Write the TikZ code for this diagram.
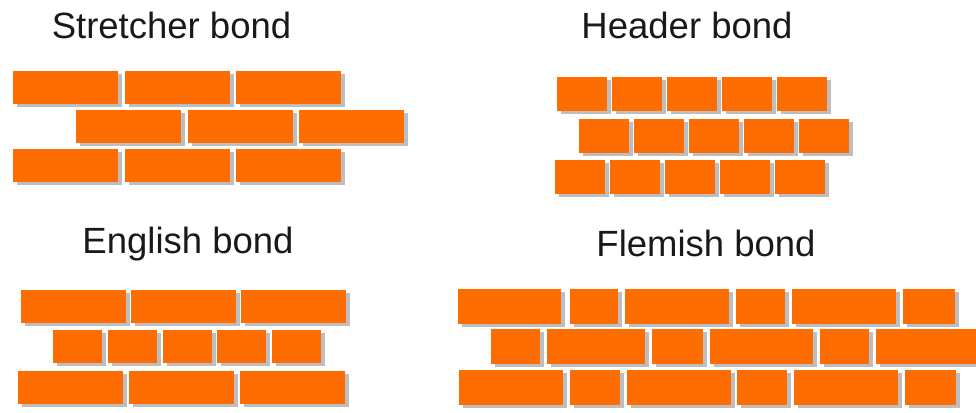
\documentclass[tikz,border=0pt]{standalone}
\usepackage{fontspec}
\setmainfont{Liberation Sans}
\usepackage{xcolor}
\usepackage{tikz}
\usetikzlibrary{shadows}
\definecolor{brickorange}{RGB}{255,108,0}
\definecolor{mortar}{RGB}{188,190,194}
\definecolor{ink}{RGB}{25,25,25}

\begin{document}
\begin{tikzpicture}[
  x=1pt, y=-1pt,
  title/.style={font=\fontsize{36.5}{40}\selectfont, text=ink, anchor=base, inner sep=0pt},
  brick/.style={fill=brickorange,
                drop shadow={shadow xshift=4pt, shadow yshift=-3pt, fill=mortar, opacity=1}}]

  \useasboundingbox (0,0) rectangle (976,412);

  % titles
  \node[title] (stretcher) at (171.5,38) {Stretcher bond};
  \node[title] (header)    at (687,38)   {Header bond};
  \node[title] (english)   at (188,253)  {English bond};
  \node[title] (flemish)   at (706,256)  {Flemish bond};

  % stretcher bond
  \foreach \xs/\ys in {13/71, 76/110, 13/149}
    \foreach \i in {0,1,2}
      \path[brick] ({\xs+111.5*\i},\ys) rectangle ++(105,33);

  % header bond
  \foreach \xs/\ys in {557/77, 579/118.5, 555/160}
    \foreach \i in {0,...,4}
      \path[brick] ({\xs+55*\i},\ys) rectangle ++(50,34);

  % english bond
  \foreach \i in {0,1,2}
    \path[brick] ({21+110*\i},290) rectangle ++(105,33);
  \foreach \i in {0,...,4}
    \path[brick] ({53+54.8*\i},330) rectangle ++(49,33);
  \foreach \i in {0,1,2}
    \path[brick] ({18+111*\i},371) rectangle ++(105,33);

  % flemish bond
  \foreach \a/\b in {458/561, 570/618, 625/729, 736/785, 792/896, 903/955}
    \path[brick] (\a,289) rectangle (\b,324);
  \foreach \a/\b in {491/540, 547/645, 652/703, 710/813, 820/869, 876/976}
    \path[brick] (\a,329) rectangle (\b,364);
  \foreach \a/\b in {459/563, 570/620, 627/731, 737/787, 794/898, 905/956}
    \path[brick] (\a,370) rectangle (\b,405);
\end{tikzpicture}
\end{document}
